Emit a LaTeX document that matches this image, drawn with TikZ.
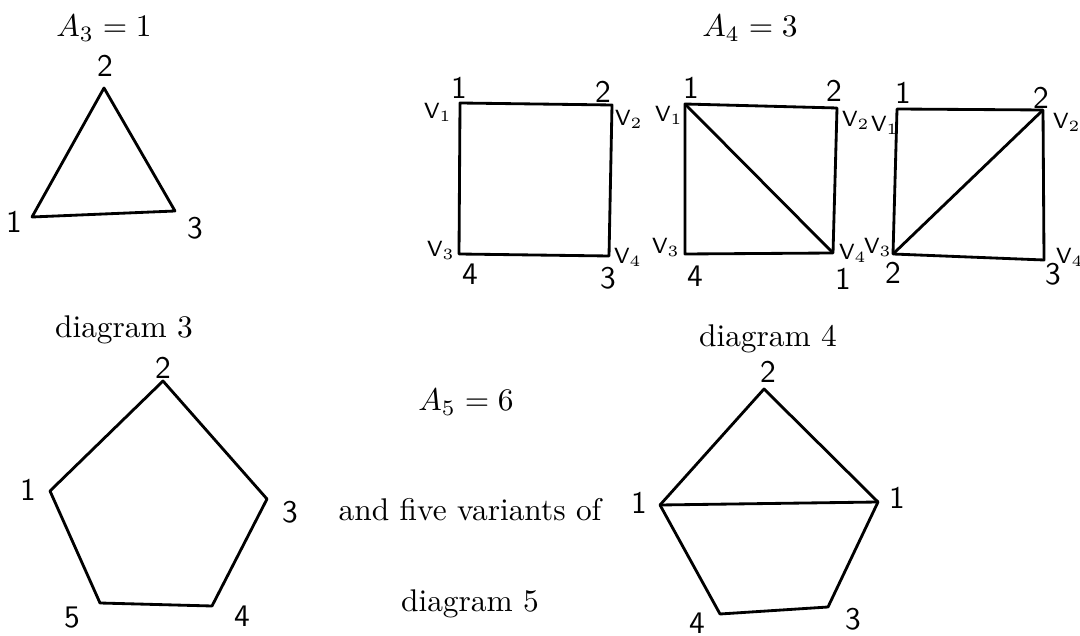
\documentclass[tikz,border=0pt]{standalone}
\usepackage{amsmath}
\usepackage{amssymb}
\usepackage{tikz}
\usetikzlibrary{arrows.meta,shapes,positioning,calc}

\tikzset{
    edge/.style={line width=0.9pt, line join=round},
    hand/.style={font=\sffamily, inner sep=1pt},
    vlab/.style={font=\sffamily\scriptsize, inner sep=0.5pt},
}

\begin{document}
\begin{tikzpicture}[x=0.0112cm,y=-0.0112cm]

                \useasboundingbox (0,0) rectangle (1080,636);

                % Headings
                \node (head3) at (104,28) {$A_3 = 1$};
                \node (head4) at (750,28) {$A_4 = 3$};
                \node (cap3) at (124,330) {diagram 3};
                \node (cap4) at (768,339) {diagram 4};
                \node (head5) at (466,402) {$A_5 = 6$};
                \node (variants) at (470,510) {and five variants of};
                \node (cap5) at (470,604) {diagram 5};

                % Triangle
                \coordinate (t1) at (32,217);
                \coordinate (t2) at (104,88);
                \coordinate (t3) at (175,211);
                \draw[edge] (t1) -- (t2) -- (t3) -- cycle;
                \node[hand] (t1l) at (14,222) {1};
                \node[hand] (t2l) at (105,66) {2};
                \node[hand] (t3l) at (195,228) {3};

                % Square one
                \coordinate (a1) at (460,103);
                \coordinate (a2) at (612,105);
                \coordinate (a4) at (609,256);
                \coordinate (a3) at (459,254);
                \draw[edge] (a1) -- (a2) -- (a4) -- (a3) -- cycle;
                \node[hand] (a1n) at (459,88) {1};
                \node[hand] (a2n) at (603,92) {2};
                \node[hand] (a4n) at (608,278) {3};
                \node[hand] (a3n) at (470,274) {4};
                \node[vlab] (a1v) at (438,112) {V$_1$};
                \node[vlab] (a2v) at (629,119) {V$_2$};
                \node[vlab] (a3v) at (441,250) {V$_3$};
                \node[vlab] (a4v) at (628,257) {V$_4$};

                % Square two
                \coordinate (b1) at (685,104);
                \coordinate (b2) at (837,108);
                \coordinate (b4) at (833,253);
                \coordinate (b3) at (685,254);
                \draw[edge] (b1) -- (b2) -- (b4) -- (b3) -- cycle;
                \draw[edge] (b1) -- (b4);
                \node[hand] (b1n) at (691,88) {1};
                \node[hand] (b2n) at (834,91) {2};
                \node[hand] (b4n) at (843,279) {1};
                \node[hand] (b3n) at (695,276) {4};
                \node[vlab] (b1v) at (669,115) {V$_1$};
                \node[vlab] (b2v) at (856,120) {V$_2$};
                \node[vlab] (b3v) at (666,247) {V$_3$};
                \node[vlab] (b4v) at (853,253) {V$_4$};

                % Square three
                \coordinate (c1) at (897,109);
                \coordinate (c2) at (1043,110);
                \coordinate (c4) at (1044,260);
                \coordinate (c3) at (893,254);
                \draw[edge] (c1) -- (c2) -- (c4) -- (c3) -- cycle;
                \draw[edge] (c3) -- (c2);
                \node[hand] (c1n) at (903,93) {1};
                \node[hand] (c2n) at (1041,98) {2};
                \node[hand] (c4n) at (1053,274) {3};
                \node[hand] (c3n) at (893,273) {2};
                \node[vlab] (c1v) at (885,125) {V$_1$};
                \node[vlab] (c2v) at (1067,122) {V$_2$};
                \node[vlab] (c3v) at (878,247) {V$_3$};
                \node[vlab] (c4v) at (1070,257) {V$_4$};

                % Pentagon
                \coordinate (p1) at (50,491);
                \coordinate (p2) at (163,381);
                \coordinate (p3) at (267,499);
                \coordinate (p4) at (212,606);
                \coordinate (p5) at (100,603);
                \draw[edge] (p1) -- (p2) -- (p3) -- (p4) -- (p5) -- cycle;
                \node[hand] (p1l) at (28,490) {1};
                \node[hand] (p2l) at (163,368) {2};
                \node[hand] (p3l) at (290,512) {3};
                \node[hand] (p4l) at (242,616) {4};
                \node[hand] (p5l) at (72,618) {5};

                % Pentagon with chord
                \coordinate (q1) at (660,505);
                \coordinate (q2) at (764,389);
                \coordinate (q5) at (878,502);
                \coordinate (q3) at (828,607);
                \coordinate (q4) at (720,614);
                \draw[edge] (q1) -- (q2) -- (q5) -- (q3) -- (q4) -- cycle;
                \draw[edge] (q1) -- (q5);
                \node[hand] (q1l) at (639,503) {1};
                \node[hand] (q2l) at (768,372) {2};
                \node[hand] (q5l) at (897,498) {1};
                \node[hand] (q3l) at (853,619) {3};
                \node[hand] (q4l) at (697,623) {4};

            \end{tikzpicture}
\end{document}
